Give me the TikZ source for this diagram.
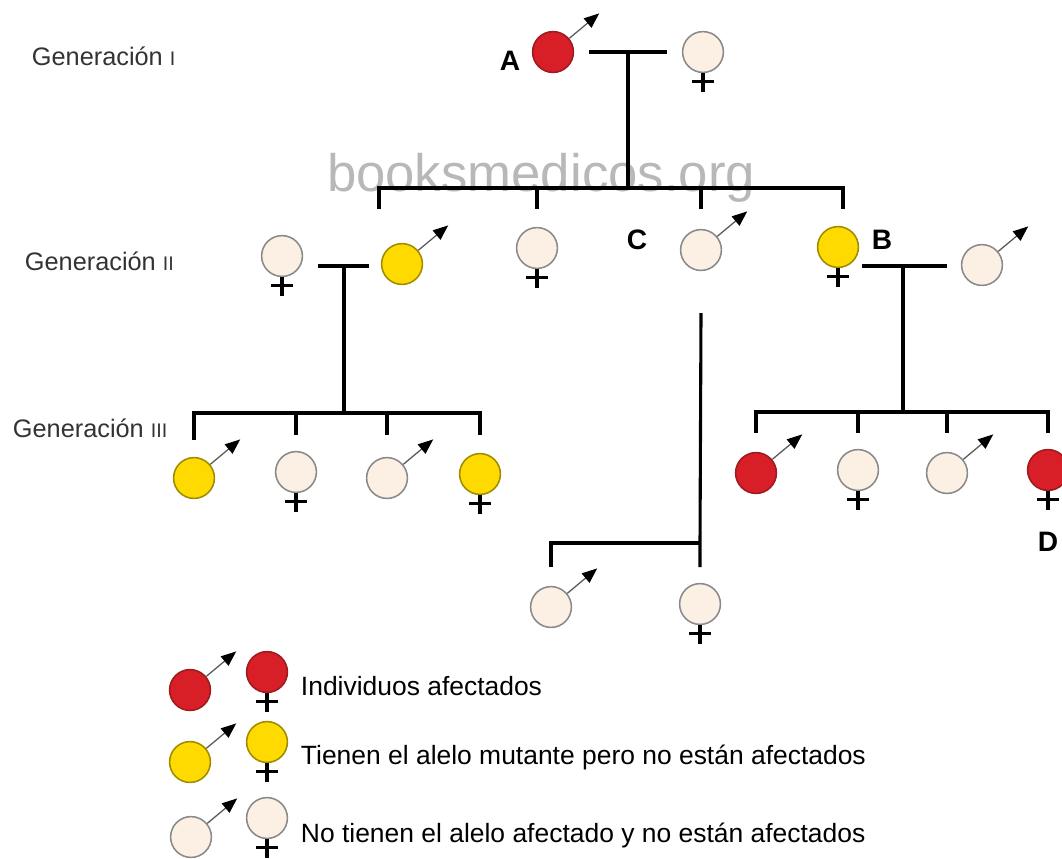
\documentclass[tikz,border=0pt]{standalone}
\usepackage{fontspec}
\setmainfont{Liberation Sans}
\usetikzlibrary{arrows.meta}
\definecolor{rojo}{HTML}{D81E27}\definecolor{rojoB}{HTML}{9E1B1E}
\definecolor{amarillo}{HTML}{FFDA00}\definecolor{amarilloB}{HTML}{A08C00}
\definecolor{crema}{HTML}{FBF0E3}\definecolor{cremaB}{HTML}{8A8A8A}

\begin{document}
\begin{tikzpicture}[x=0.025cm, y=-0.025cm, font=\fontsize{18.8}{20}\selectfont,
  ind/.style={circle, minimum size=1.02cm, inner sep=0pt, line width=1.1pt},
  af/.style={ind, fill=rojo, draw=rojoB}, port/.style={ind, fill=amarillo, draw=amarilloB}, sano/.style={ind, fill=crema, draw=cremaB},
  lin/.style={line width=2.2pt}, cruz/.style={line width=2.2pt},
  flecha/.style={line width=0.9pt, draw=black!65, -{Triangle[length=0.38cm, width=0.3cm, color=black]}},
  letra/.style={font=\fontsize{20}{20}\selectfont\bfseries}, gen/.style={anchor=west, text=black!80, font=\fontsize{18}{20}\selectfont}]
\useasboundingbox (0,0) rectangle (1062,858);
\node[text=black!28, font=\fontsize{37.5}{37.5}\selectfont] (marca) at (541,178) {booksmedicos.org};
% generaciones
\node[gen] (g1) at (27,56) {Generación {\fontsize{14}{14}\selectfont I}}; \node[gen] (g2) at (20,261) {Generación {\fontsize{14}{14}\selectfont II}}; \node[gen] (g3) at (8,428) {Generación {\fontsize{14}{14}\selectfont III}};
% individuos
\node[af] (A) at (553,52) {}; \node[sano] (Ib) at (703,52) {};
\node[sano] (IIa) at (282,256) {}; \node[port] (IIb) at (402,264) {}; \node[sano] (IIc) at (537,248) {}; \node[sano] (IId) at (701,250) {}; \node[port] (IIe) at (838,247) {}; \node[sano] (IIf) at (982,265) {};
\node[port] (IIIa) at (194,478) {}; \node[sano] (IIIb) at (296,472) {}; \node[sano] (IIIc) at (387,478) {}; \node[port] (IIId) at (480,474) {};
\node[af] (IIIe) at (756,473) {}; \node[sano] (IIIf) at (858,470) {}; \node[sano] (IIIg) at (947,473) {}; \node[af] (IIIh) at (1048,470) {};
\node[sano] (IVa) at (551,607) {}; \node[sano] (IVb) at (700,604) {};
\node[letra] (la) at (510,61) {A}; \node[letra] (lb) at (882,240) {B}; \node[letra] (lc) at (637,240) {C}; \node[letra] (ld) at (1048,542) {D};
% leyenda
\node[af] (L1m) at (190,690) {}; \node[af] (L1f) at (267,672) {}; \node[port] (L2m) at (190,762) {}; \node[port] (L2f) at (267,742) {}; \node[sano] (L3m) at (191,837) {}; \node[sano] (L3f) at (267,818) {};
\node[anchor=west] (t1) at (296,686) {Individuos afectados}; \node[anchor=west] (t2) at (296,757) {Tienen el alelo mutante pero no están afectados}; \node[anchor=west] (t3) at (296,835) {No tienen el alelo afectado y no están afectados};
% simbolos
\foreach \n in {A,IIb,IId,IIf,IIIa,IIIc,IIIe,IIIg,IVa,L1m,L2m,L3m} \draw[flecha] (\n.40) -- ++(30,-25);
\foreach \n in {Ib,IIa,IIc,IIe,IIIb,IIId,IIIf,IIIh,IVb,L1f,L2f,L3f} \draw[cruz] (\n.south) -- ++(0,19) ++(-11,-11) -- ++(22,0);
% uniones y hermandades
\coordinate (m1) at (628,52); \coordinate (s1l) at (379,188); \coordinate (s1r) at (843,188);
\draw[lin, shorten <=0.37cm, shorten >=0.37cm] (A.east) -- (Ib.west); \draw[lin] (m1) -- (m1 |- s1l);
\draw[lin] (s1l) ++(0,21) -- (s1l) -- (s1r) -- ++(0,21); \draw[lin] (IIc |- s1l) -- ++(0,21); \draw[lin] (IId |- s1l) -- ++(0,21);
\coordinate (m2) at (344,266); \coordinate (s2) at (344,413);
\draw[lin, shorten <=0.37cm, shorten >=0.3cm] (IIa.east |- m2) -- (IIb.west |- m2); \draw[lin] (m2) -- (s2);
\draw[lin] (IIIa |- s2) ++(0,27) -- (IIIa |- s2) -- (IIId |- s2) -- ++(0,22); \draw[lin] (IIIb |- s2) -- ++(0,22); \draw[lin] (IIIc |- s2) -- ++(0,22);
\coordinate (m3) at (903,266); \coordinate (s3) at (903,412);
\draw[lin, shorten <=0.08cm, shorten >=0.35cm] (IIe.east |- m3) -- (IIf.west |- m3); \draw[lin] (m3) -- (s3);
\draw[lin] (IIIe |- s3) ++(0,21) -- (IIIe |- s3) -- (IIIh |- s3) -- ++(0,21); \draw[lin] (IIIf |- s3) -- ++(0,21); \draw[lin] (IIIg |- s3) -- ++(0,21);
\coordinate (s4) at (700,543);
\draw[lin] (IId.south) ++(0,42) -- (IVb |- s4) -- ++(0,24); \draw[lin] (IVa |- s4) ++(0,24) -- (IVa |- s4) -- (IVb |- s4);
\end{tikzpicture}
\end{document}
